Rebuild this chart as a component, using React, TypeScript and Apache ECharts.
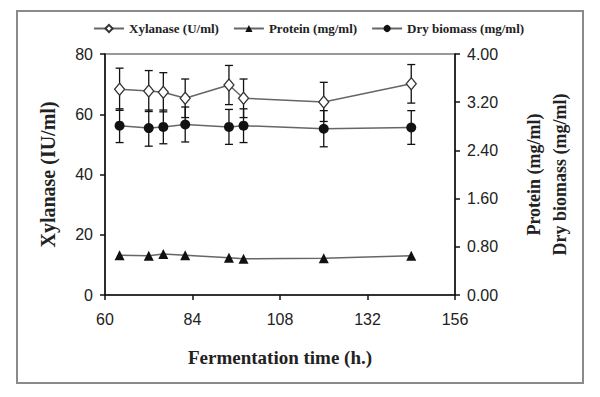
import React, { useEffect, useRef } from "react";
import * as echarts from "echarts";

const times = [64, 72, 76, 82, 94, 98, 120, 144];
const xylanase = [68.3, 67.7, 67.3, 65.3, 69.7, 65.3, 64.1, 70.1];
const xylanaseErr = [7.0, 6.8, 6.5, 6.4, 6.5, 6.4, 6.5, 6.4];
const protein = [0.66, 0.65, 0.68, 0.66, 0.62, 0.6, 0.61, 0.65];
const biomass = [2.81, 2.77, 2.79, 2.83, 2.79, 2.81, 2.76, 2.78];
const biomassErr = [0.28, 0.3, 0.28, 0.29, 0.29, 0.28, 0.3, 0.28];

const seriesNames = ["Xylanase (U/ml)", "Protein (mg/ml)", "Dry biomass (mg/ml)"];

const serif = "Liberation Serif";
const sans = "Liberation Sans";

function errorSeries(vals: number[], errs: number[], yAxisIndex: number) {
  const data = times.map((t, i) => [t, vals[i] - errs[i], vals[i] + errs[i]]);
  return {
    type: "custom",
    name: "err" + yAxisIndex,
    xAxisIndex: 0,
    yAxisIndex,
    silent: true,
    z: 1,
    data,
    encode: { x: 0, y: [1, 2] },
    renderItem: (params: any, api: any) => {
      const x = api.value(0);
      const lo = api.coord([x, api.value(1)]);
      const hi = api.coord([x, api.value(2)]);
      const cap = 4;
      const style = { stroke: "#111", lineWidth: 1.3 };
      return {
        type: "group",
        children: [
          { type: "line", shape: { x1: lo[0], y1: lo[1], x2: hi[0], y2: hi[1] }, style },
          { type: "line", shape: { x1: lo[0] - cap, y1: lo[1], x2: lo[0] + cap, y2: lo[1] }, style },
          { type: "line", shape: { x1: hi[0] - cap, y1: hi[1], x2: hi[0] + cap, y2: hi[1] }, style },
        ],
      };
    },
  };
}

export default function App() {
  const ref = useRef<HTMLDivElement>(null);
  useEffect(() => {
    document.body.style.margin = "0";
    if (!ref.current) return;
    const chart = echarts.init(ref.current, null, { renderer: "svg" });
    const axisLine = { show: true, lineStyle: { color: "#111", width: 1.5 } };
    const axisTick = { show: true, length: 5, lineStyle: { color: "#111", width: 1.5 } };
    const tickLabel = { fontFamily: sans, fontSize: 16, color: "#222" };
    chart.setOption({
      animation: false,
      backgroundColor: "#fff",
      graphic: [
        {
          type: "rect",
          shape: { x: 17, y: 11, width: 566, height: 372 },
          style: { fill: "none", stroke: "#8a8a8a", lineWidth: 2 },
          z: 0,
        },
      ],
      legend: {
        data: seriesNames,
        left: 88,
        top: 17,
        itemWidth: 30,
        itemHeight: 9,
        itemGap: 14,
        textStyle: { fontFamily: serif, fontWeight: "bold", fontSize: 13, color: "#222" },
      },
      grid: {
        left: 105,
        right: 145,
        top: 54,
        bottom: 102,
        show: true,
        borderColor: "#333",
        borderWidth: 1.2,
        backgroundColor: "transparent",
        outerBoundsMode: "none",
      },
      xAxis: {
        type: "value",
        min: 60,
        max: 156,
        interval: 24,
        splitLine: { show: false },
        axisLine,
        axisTick,
        axisLabel: { ...tickLabel, margin: 16 },
        name: "Fermentation time (h.)",
        nameLocation: "middle",
        nameGap: 53,
        nameTextStyle: { fontFamily: serif, fontWeight: "bold", fontSize: 19, color: "#222" },
      },
      yAxis: [
        {
          type: "value",
          min: 0,
          max: 80,
          interval: 20,
          splitLine: { show: false },
          axisLine,
          axisTick,
          axisLabel: { ...tickLabel, margin: 12 },
          name: "Xylanase (IU/ml)",
          nameLocation: "middle",
          nameRotate: 90,
          nameGap: 47,
          nameTextStyle: { fontFamily: serif, fontWeight: "bold", fontSize: 20, color: "#222" },
        },
        {
          type: "value",
          position: "right",
          min: 0,
          max: 4,
          interval: 0.8,
          splitLine: { show: false },
          axisLine,
          axisTick,
          axisLabel: { ...tickLabel, margin: 12, formatter: (v: number) => v.toFixed(2) },
          name: "Protein (mg/ml)\nDry biomass (mg/ml)",
          nameLocation: "middle",
          nameRotate: 90,
          nameGap: 66,
          nameTextStyle: {
            fontFamily: serif,
            fontWeight: "bold",
            fontSize: 18,
            lineHeight: 26,
            color: "#222",
          },
        },
      ],
      series: [
        errorSeries(xylanase, xylanaseErr, 0),
        errorSeries(biomass, biomassErr, 1),
        {
          type: "line",
          name: seriesNames[0],
          yAxisIndex: 0,
          data: times.map((t, i) => [t, xylanase[i]]),
          symbol: "diamond",
          symbolSize: [10, 12],
          showAllSymbol: true,
          z: 3,
          lineStyle: { color: "#666", width: 1.5 },
          itemStyle: { color: "#fff", borderColor: "#333", borderWidth: 1.3 },
        },
        {
          type: "line",
          name: seriesNames[1],
          yAxisIndex: 1,
          data: times.map((t, i) => [t, protein[i]]),
          symbol: "triangle",
          symbolSize: 10,
          z: 3,
          lineStyle: { color: "#666", width: 1.5 },
          itemStyle: { color: "#111" },
        },
        {
          type: "line",
          name: seriesNames[2],
          yAxisIndex: 1,
          data: times.map((t, i) => [t, biomass[i]]),
          symbol: "circle",
          symbolSize: 10,
          z: 3,
          lineStyle: { color: "#666", width: 1.5 },
          itemStyle: { color: "#111" },
        },
      ],
    });
    return () => chart.dispose();
  }, []);
  return <div ref={ref} style={{ width: 600, height: 397 }} />;
}
